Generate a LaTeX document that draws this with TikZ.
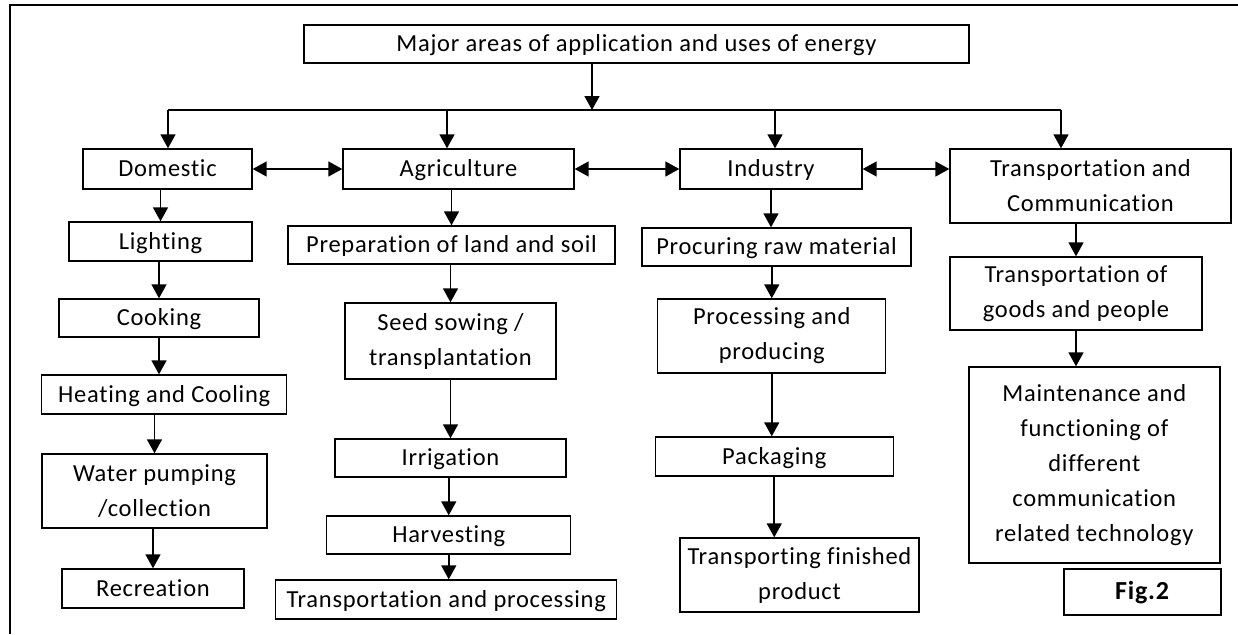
\documentclass[tikz,border=0pt]{standalone}
\usepackage{fontspec}
\setmainfont{Carlito}[Ligatures=NoCommon,LetterSpace=3]
\usetikzlibrary{arrows.meta}

\begin{document}
\begin{tikzpicture}[x=1pt,y=-1pt,
  box/.style={draw,line width=1.4pt,inner sep=0pt,align=center,font=\fontsize{24.5}{35}\selectfont},
  one/.style={box,text height=15.5pt,text depth=0pt},
  arr/.style={line width=1.6pt,-{Triangle[length=14pt,width=15pt]}},
  arrs/.style={line width=1.6pt,{Triangle[length=14pt,width=15pt]}-{Triangle[length=14pt,width=15pt]}}]
\useasboundingbox (0,0) rectangle (1238,634);
\draw[line width=1.6pt] (1238,5) -- (10,5) -- (10,634);

\node[one,minimum width=665pt,minimum height=38pt] (top) at (636.5,44) {Major areas of application and uses of energy};

\node[one,minimum width=169pt,minimum height=40pt] (dom) at (167.5,169) {Domestic};
\node[one,minimum width=231pt,minimum height=40pt] (agri) at (458.5,169) {Agriculture};
\node[one,minimum width=182pt,minimum height=40pt] (ind) at (771,169) {Industry};
\node[box,minimum width=281pt,minimum height=74pt] (tra) at (1090.5,186) {Transportation and\\Communication};

\node[one,minimum width=183pt,minimum height=39pt] (light) at (160.5,241.5) {Lighting};
\node[one,minimum width=200pt,minimum height=38pt] (cook) at (159,318) {Cooking};
\node[one,minimum width=245pt,minimum height=39pt] (heat) at (164.25,394.5) {Heating and Cooling};
\node[box,minimum width=225pt,minimum height=74pt] (water) at (154.5,491) {Water pumping\\/collection};
\node[one,minimum width=182pt,minimum height=39pt] (rec) at (153,588.5) {Recreation};

\node[one,minimum width=327pt,minimum height=38pt] (prep) at (451.5,245) {Preparation of land and soil};
\node[box,minimum width=211pt,minimum height=76pt] (seed) at (450.5,341) {Seed sowing /\\transplantation};
\node[one,minimum width=231pt,minimum height=38pt] (irr) at (450.5,458) {Irrigation};
\node[one,minimum width=244pt,minimum height=38pt] (harv) at (448.75,535) {Harvesting};
\node[one,minimum width=341pt,minimum height=39pt] (tp) at (446.25,599.5) {Transportation and processing};

\node[one,minimum width=269pt,minimum height=38pt] (raw) at (776.5,247) {Procuring raw material};
\node[box,minimum width=228pt,minimum height=74pt] (prod) at (771.75,336) {Processing and\\producing};
\node[one,minimum width=238pt,minimum height=39pt] (pack) at (774.25,456.5) {Packaging};
\node[box,minimum width=239pt,minimum height=74pt] (fin) at (799.5,575) {Transporting finished\\product};

\node[box,minimum width=252pt,minimum height=73pt] (goods) at (1076,293.5) {Transportation of\\goods and people};
\node[box,minimum width=251pt,minimum height=196pt] (maint) at (1094.3,465) {Maintenance and\\functioning of\\different\\communication\\related technology};
\node[one,minimum width=157pt,minimum height=46pt,font=\fontsize{26}{35}\selectfont] (fig) at (1142.5,592) {\textbf{Fig.2}};

\coordinate (hub) at (592,110);
\coordinate (bD) at (168,110);
\coordinate (bA) at (447,110);
\coordinate (bI) at (775,110);
\coordinate (bT) at (1061,110);

\draw[arr] (top.south -| hub) -- (hub);
\draw[line width=1.6pt] (bD) -- (bT);
\draw[arr] (bD) -- (bD |- dom.north);
\draw[arr] (bA) -- (bA |- agri.north);
\draw[arr] (bI) -- (bI |- ind.north);
\draw[arr] (bT) -- (bT |- tra.north);

\draw[arrs] (dom.east) -- (agri.west);
\draw[arrs] (agri.east) -- (ind.west);
\draw[arrs] (ind.east) -- (ind.east -| tra.west);

\draw[arr] (dom.south -| light.north) -- (light.north);
\draw[arr] (light.south -| cook.north) -- (cook.north);
\draw[arr] (cook.south) -- (cook.south |- heat.north);
\draw[arr] (heat.south -| water.north) -- (water.north);
\draw[arr] (water.south -| rec.north) -- (rec.north);

\draw[arr] (agri.south -| prep.north) -- (prep.north);
\draw[arr] (prep.south -| seed.north) -- (seed.north);
\draw[arr] (seed.south) -- (irr.north);
\draw[arr] (irr.south -| harv.north) -- (harv.north);
\draw[arr] (harv.south) -- (harv.south |- tp.north);

\draw[arr] (ind.south) -- (ind.south |- raw.north);
\draw[arr] (raw.south -| prod.north) -- (prod.north);
\draw[arr] (prod.south) -- (prod.south |- pack.north);
\draw[arr] (pack.south) -- (pack.south |- fin.north);

\draw[arr] (tra.south -| goods.north) -- (goods.north);
\draw[arr] (goods.south) -- (goods.south |- maint.north);
\end{tikzpicture}
\end{document}
